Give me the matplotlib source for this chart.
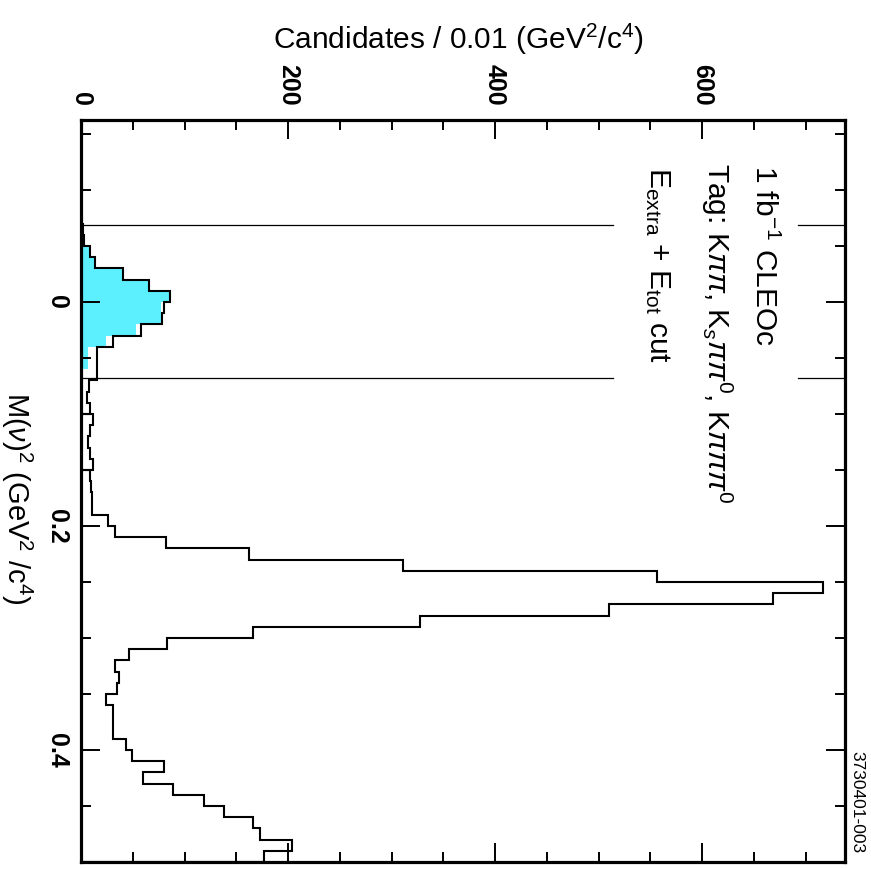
import matplotlib
matplotlib.use('Agg')
import matplotlib.pyplot as plt
from matplotlib.ticker import MultipleLocator, FormatStrFormatter
import numpy as np

plt.rcParams['font.family'] = ['Liberation Sans', 'DejaVu Sans']
plt.rcParams['mathtext.fontset'] = 'custom'
plt.rcParams['mathtext.rm'] = 'Liberation Sans'
plt.rcParams['mathtext.it'] = 'Liberation Sans:italic'
plt.rcParams['mathtext.bf'] = 'Liberation Sans:bold'

# M(nu)^2 histogram, 0.01 GeV^2/c^4 bins
BIN_WIDTH = 0.01
ALL_FIRST_EDGE = -0.07
all_counts = [2, 3, 9, 14, 41, 66, 86, 80, 78, 58,
              31, 15, 15, 15, 8, 6, 9, 12, 9, 7,
              9, 12, 9, 10, 11, 11, 26, 33, 82, 162,
              311, 556, 717, 668, 510, 327, 166, 83, 46, 33,
              37, 35, 24, 31, 31, 31, 43, 49, 80, 60,
              89, 119, 138, 166, 173, 204, 177]
# histogram is drawn in pieces, each closed to zero
segment_breaks = [0.10, 0.15]

SIG_FIRST_EDGE = -0.05
signal_counts = [9, 14, 40, 65, 85, 77, 77, 53, 24, 7, 7]

cut_values = [-0.069, 0.068]

mass_range = (-0.1625, 0.5)
count_range = (0, 738)

fig = plt.figure(figsize=(8.71, 8.69), dpi=100)
ax = fig.add_axes([81 / 871, 7 / 869, 764 / 871, 742 / 869])

# signal region histogram (filled)
sig_edges = SIG_FIRST_EDGE + BIN_WIDTH * np.arange(len(signal_counts) + 1)
ax.stairs(signal_counts, sig_edges, orientation='horizontal', baseline=0,
          fill=True, facecolor='#5cf0ff', edgecolor='none')

# all candidates, outline
edges = ALL_FIRST_EDGE + BIN_WIDTH * np.arange(len(all_counts) + 1)
bounds = [edges[0]] + segment_breaks + [edges[-1]]
for lo, hi in zip(bounds[:-1], bounds[1:]):
    i0 = int(round((lo - ALL_FIRST_EDGE) / BIN_WIDTH))
    i1 = int(round((hi - ALL_FIRST_EDGE) / BIN_WIDTH))
    ax.stairs(all_counts[i0:i1], edges[i0:i1 + 1], orientation='horizontal',
              baseline=0, color='black', lw=1.5)

# cut lines, broken where the text sits
for c in cut_values:
    ax.axhline(c, xmin=0, xmax=0.696, color='black', lw=0.9)
    ax.axhline(c, xmin=0.938, xmax=1, color='black', lw=0.9)

ax.set_xlim(*count_range)
ax.set_ylim(mass_range[1], mass_range[0])

ax.xaxis.set_major_locator(MultipleLocator(200))
ax.xaxis.set_minor_locator(MultipleLocator(50))
ax.yaxis.set_major_locator(MultipleLocator(0.2))
ax.yaxis.set_minor_locator(MultipleLocator(0.05))
ax.xaxis.set_major_formatter(FormatStrFormatter('%g'))
ax.yaxis.set_major_formatter(FormatStrFormatter('%g'))

ax.tick_params(which='both', direction='in', top=True, bottom=True,
               left=True, right=True, labeltop=True, labelbottom=False,
               labelleft=True, labelright=False, width=1.4)
ax.tick_params(which='major', length=14, labelsize=18)
ax.tick_params(which='minor', length=7.5)
ax.tick_params(axis='x', labelrotation=-90, pad=10)
ax.tick_params(axis='y', labelrotation=-90, pad=9)
for lab in ax.get_yticklabels():
    lab.set_va('center')
    lab.set_fontweight('bold')
for lab in ax.get_xticklabels():
    lab.set_fontweight('bold')
for sp in ax.spines.values():
    sp.set_linewidth(2.3)

ax.xaxis.set_label_position('top')
ax.set_xlabel('Candidates / 0.01 (GeV$^2$/c$^4$)', fontsize=21.5)
ax.xaxis.set_label_coords(0.4935, 1.108)
ax.xaxis.label.set_va('center')
ax.set_ylabel('M($\\nu$)$^2$ (GeV$^2$ /c$^4$)', fontsize=21, rotation=-90)
ax.yaxis.set_label_coords(-0.084, 0.49)
ax.yaxis.label.set_va('center')

ax.text(0.894, 0.939, '1 fb$^{-1}$ CLEOc', transform=ax.transAxes,
        rotation=-90, ha='center', va='top', fontsize=21.5)
ax.text(0.832, 0.942, 'Tag: K$\\pi\\pi$, K$_s\\pi\\pi^0$, K$\\pi\\pi\\pi^0$',
        transform=ax.transAxes, rotation=-90, ha='center', va='top', fontsize=21.5)
ax.text(0.754, 0.937, 'E$_{\\rm extra}$ + E$_{\\rm tot}$ cut', transform=ax.transAxes,
        rotation=-90, ha='center', va='top', fontsize=21.5)

fig.text(857 / 871, 1 - 853 / 869, '3730401-003', rotation=-90,
         ha='center', va='bottom', fontsize=12.5)

fig.savefig('out.png', dpi=100)
plt.close(fig)
